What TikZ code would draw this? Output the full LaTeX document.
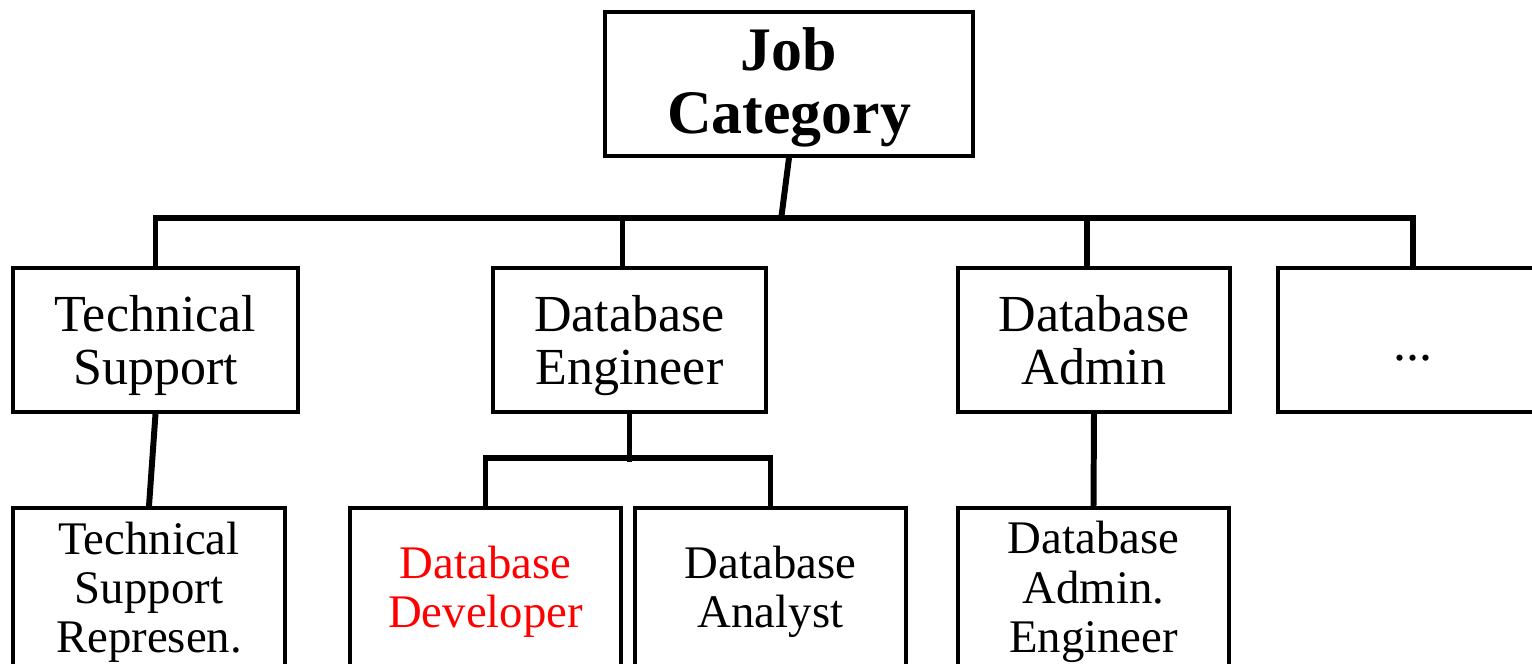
\documentclass[tikz,border=0pt]{standalone}
\usepackage{xcolor}
\usepackage{fontspec}
\setmainfont{Liberation Serif}
\usepackage{tikz}

\begin{document}
\begin{tikzpicture}[
  box/.style={draw,line width=1.1pt,align=center,inner sep=0pt,minimum height=1.44cm},
  leaf/.style={box,minimum height=1.68cm,font=\fontsize{13.3}{14}\selectfont},
  mid/.style={box,font=\fontsize{14.8}{15.1}\selectfont,text height=25.6pt,text depth=0pt},
  link/.style={line width=1.7pt}]
\clip (0,0) rectangle (15.32,-6.64);
\node[box,minimum width=3.68cm,font=\bfseries\fontsize{17.6}{17.9}\selectfont,text height=27.9pt,text depth=0pt] (root) at (7.89,-0.84) {Job\\Category};
\node[mid,minimum width=2.85cm] (ts) at (1.555,-3.40) {Technical\\Support};
\node[mid,minimum width=2.73cm] (de) at (6.295,-3.40) {Database\\Engineer};
\node[mid,minimum width=2.72cm] (da) at (10.94,-3.40) {Database\\Admin};
\node[mid,minimum width=2.70cm,text height=11.4pt] (more) at (14.13,-3.40) {...};
\node[leaf,minimum width=2.72cm] (tsr) at (1.49,-5.92) {Technical\\Support\\Represen.};
\node[leaf,minimum width=2.71cm,text=red] (dd) at (4.855,-5.92) {Database\\Developer};
\node[leaf,minimum width=2.71cm] (dan) at (7.705,-5.92) {Database\\Analyst};
\node[leaf,minimum width=2.71cm] (dae) at (10.935,-5.92) {Database\\Admin.\\Engineer};
\coordinate (join) at (7.81,-2.20);
\draw[link] (root.south) -- (join);
\draw[link] (ts.north) -- ++(0,0.48) -| (more.north);
\draw[link] (de.north) ++(-0.07,0) -- ++(0,0.48);
\draw[link] (da.north) ++(-0.07,0) -- ++(0,0.48);
\draw[link] (ts.south) -- (tsr.north);
\draw[link] (de.south) -- ++(0,-0.48);
\draw[link] (dd.north) -- ++(0,0.48) -| (dan.north);
\draw[link] (da.south) -- (dae.north);
\end{tikzpicture}
\end{document}
